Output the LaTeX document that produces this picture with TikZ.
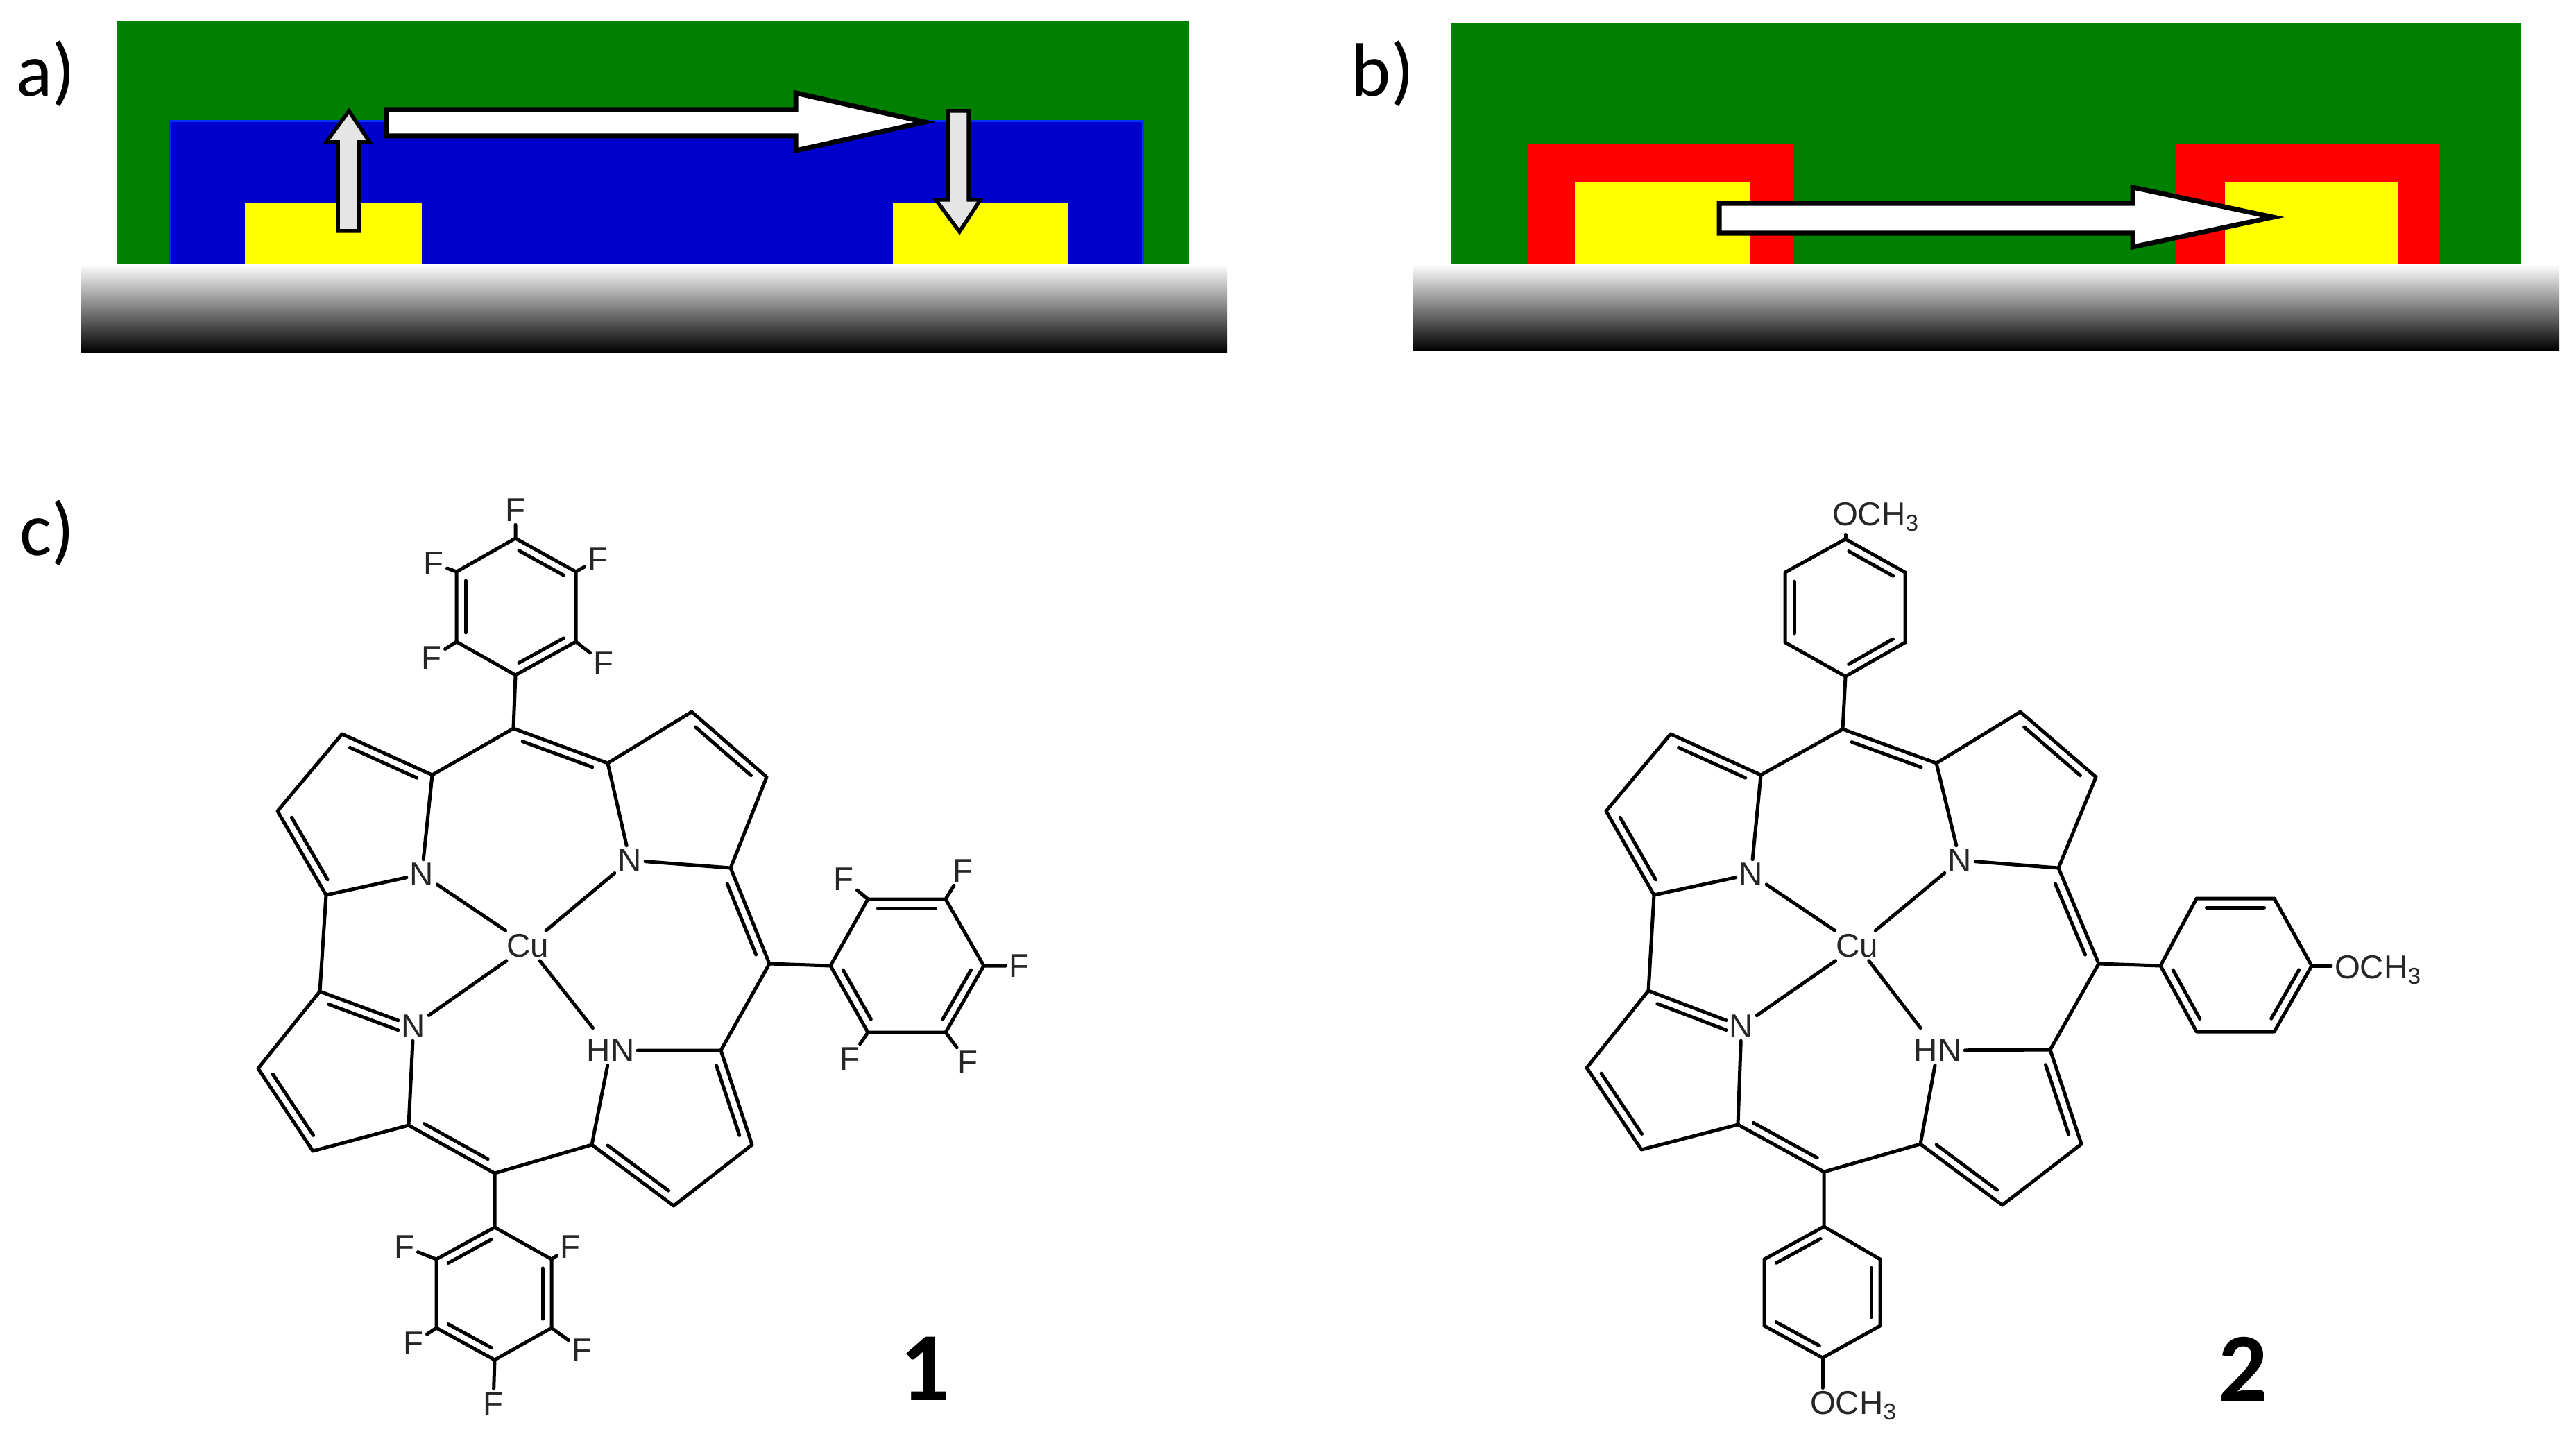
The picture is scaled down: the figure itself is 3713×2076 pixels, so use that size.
\documentclass[tikz,border=0pt]{standalone}
\usepackage{fontspec}
\setmainfont{Liberation Sans}
\newfontfamily\cali{Carlito}
\usetikzlibrary{calc}
\definecolor{fgreen}{RGB}{0,128,0}
\definecolor{fblue}{RGB}{0,0,205}
\definecolor{fblueedge}{RGB}{0,50,245}
\definecolor{fred}{RGB}{255,0,0}
\definecolor{fyellow}{RGB}{255,255,0}
\tikzset{
  bond/.style={line width=0.05cm,line cap=round,line join=round,black},
  atom/.style={inner sep=0.05cm,outer sep=0pt,font=\fontsize{13.5}{13.5}\selectfont,text=black!85},
  panel/.style={inner sep=0pt,font=\cali\fontsize{31}{31}\selectfont},
  compound/.style={inner sep=0pt,font=\cali\bfseries\fontsize{40}{40}\selectfont},
  wide arrow/.style={fill=white,draw=black,line width=0.07cm,line join=miter},
  thin arrow/.style={fill=black!10,draw=black,line width=0.055cm,line join=miter},
  substrate/.style={top color=white,bottom color=black}
}
\newcommand\dbl[2]{\draw[bond] ($(#1)!.13!(#2)!.13cm!-90:(#2)$) -- ($(#2)!.13!(#1)!.13cm!90:(#1)$);}
\newcommand\porphbonds{%
  \draw[bond] (Mt)--(a1) (a1)--(a2) (a2)--(a3) (a3)--(a4) (a4)--(Na) (Na)--(a1);
  \dbl{a2}{a1}\dbl{a4}{a3}
  \draw[bond] (Mt)--(b1) (b1)--(b2) (b2)--(b3) (b3)--(b4) (b4)--(Nb) (Nb)--(b1) (b4)--(Mr);
  \dbl{Mt}{b1}\dbl{b2}{b3}\dbl{b4}{Mr}
  \draw[bond] (Mr)--(d4) (Mr)--(r6) (a4)--(c1);
  \draw[bond] (c1)--(Nc) (c1)--(c2) (c2)--(c3) (c3)--(c4) (c4)--(Nc) (c4)--(Mb);
  \dbl{c1}{Nc}\dbl{c3}{c2}\dbl{Mb}{c4}
  \draw[bond] (Mb)--(d1) (d1)--(d2) (d2)--(d3) (d3)--(d4) (d4)--(HN) (HN)--(d1);
  \dbl{d2}{d1}\dbl{d4}{d3}
  \draw[bond] (Cu)--(Na) (Cu)--(Nb) (Cu)--(Nc);
  \draw[bond,shorten >=0.14cm] (Cu)--(HN);
  \draw[bond] (Mt)--(t4) (Mb)--(l1);
  \draw[bond] (t1)--(t2) (t2)--(t3) (t3)--(t4) (t4)--(t5) (t5)--(t6) (t6)--(t1);
  \dbl{t1}{t2}\dbl{t3}{t4}\dbl{t5}{t6}
  \draw[bond] (r1)--(r2) (r2)--(r3) (r3)--(r4) (r4)--(r5) (r5)--(r6) (r6)--(r1);
  \dbl{r1}{r2}\dbl{r3}{r4}\dbl{r5}{r6}
  \draw[bond] (l1)--(l2) (l2)--(l3) (l3)--(l4) (l4)--(l5) (l5)--(l6) (l6)--(l1);
  \dbl{l6}{l1}\dbl{l2}{l3}\dbl{l4}{l5}
}
\begin{document}
\begin{tikzpicture}[x=0.01cm,y=-0.01cm]
\useasboundingbox (0,0) rectangle (3713,2076);
\fill[white] (0,0) rectangle (3713,2076);
% panel a
\fill[fgreen] (169,30) rectangle (1714,380);
\fill[fblue] (244,175) rectangle (1647,380);
\draw[fblueedge,line width=0.03cm] (244,380) -- (244,175) -- (1647,175) -- (1647,380);
\fill[fyellow] (353,293) rectangle (608,380);
\fill[fyellow] (1287,293) rectangle (1540,380);
\shade[substrate] (117,381) rectangle (1769,508);
\draw[wide arrow] (557,158) -- (1147,158) -- (1147,134) -- (1333,176) -- (1147,217) -- (1147,196) -- (557,196) -- cycle;
\draw[thin arrow] (487,333) -- (487,205) -- (470,205) -- (503,160) -- (533,205) -- (517,205) -- (517,333) -- cycle;
\draw[thin arrow] (1366,160) -- (1396,160) -- (1396,288) -- (1413,288) -- (1383,334) -- (1349,288) -- (1366,288) -- cycle;
\node[panel] (la) at (66,106) {a)};
% panel b
\fill[fgreen] (2091,33) rectangle (3634,380);
\fill[fred] (2203,207) rectangle (2584,380);
\fill[fred] (3135,207) rectangle (3516,380);
\fill[fyellow] (2270,263) rectangle (2522,380);
\fill[fyellow] (3207,263) rectangle (3456,380);
\shade[substrate] (2036,381) rectangle (3689,505);
\draw[wide arrow] (2478,293) -- (3074,293) -- (3074,270) -- (3276,313) -- (3074,356) -- (3074,336) -- (2478,336) -- cycle;
\node[panel] (lb) at (1993,106) {b)};
\node[panel] (lc) at (68,768) {c)};
% molecule 1
\begin{scope}[name prefix=A-]
\coordinate (Mt) at (740,1050); \coordinate (Mr) at (1109,1389); \coordinate (Mb) at (713,1691);
\coordinate (a1) at (623,1117); \coordinate (a2) at (493,1058); \coordinate (a3) at (400,1169); \coordinate (a4) at (470,1290);
\coordinate (b1) at (876,1100); \coordinate (b2) at (997,1026); \coordinate (b3) at (1105,1120); \coordinate (b4) at (1053,1251);
\coordinate (c1) at (461,1429); \coordinate (c2) at (372,1540); \coordinate (c3) at (451,1659); \coordinate (c4) at (589,1622);
\coordinate (d1) at (853,1650); \coordinate (d2) at (971,1738); \coordinate (d3) at (1084,1650); \coordinate (d4) at (1039,1514);
\coordinate (t1) at (743,776); \coordinate (t2) at (830,824); \coordinate (t3) at (830,925); \coordinate (t4) at (743,973); \coordinate (t5) at (658,925); \coordinate (t6) at (658,824);
\coordinate (r1) at (1251,1296); \coordinate (r2) at (1363,1296); \coordinate (r3) at (1418,1392); \coordinate (r4) at (1363,1488); \coordinate (r5) at (1251,1488); \coordinate (r6) at (1197,1392);
\coordinate (l1) at (713,1769); \coordinate (l2) at (795,1815); \coordinate (l3) at (795,1914); \coordinate (l4) at (713,1960); \coordinate (l5) at (629,1914); \coordinate (l6) at (629,1815);
\node[atom] (Na) at (608,1260) {N};
\node[atom] (Nb) at (908,1240) {N};
\node[atom] (Nc) at (596,1479) {N};
\node[atom] (HN) at (880,1514) {HN};
\node[atom] (Cu) at (761,1363) {Cu};
\porphbonds
\node[atom] (f1) at (743,735) {F};
\node[atom] (f2) at (862,806) {F};
\node[atom] (f3) at (870,956) {F};
\node[atom] (f4) at (622,948) {F};
\node[atom] (f5) at (625,812) {F};
\draw[bond] (t1)--(f1) (t2)--(f2) (t3)--(f3) (t5)--(f4) (t6)--(f5);
\node[atom] (f6) at (1216,1267) {F};
\node[atom] (f7) at (1388,1255) {F};
\node[atom] (f8) at (1469,1392) {F};
\node[atom] (f9) at (1395,1531) {F};
\node[atom] (f10) at (1225,1526) {F};
\draw[bond] (r1)--(f6) (r2)--(f7) (r3)--(f8) (r4)--(f9) (r5)--(f10);
\node[atom] (f11) at (822,1797) {F};
\node[atom] (f12) at (839,1946) {F};
\node[atom] (f13) at (711,2023) {F};
\node[atom] (f14) at (596,1936) {F};
\node[atom] (f15) at (583,1797) {F};
\draw[bond] (l2)--(f11) (l3)--(f12) (l4)--(f13) (l5)--(f14) (l6)--(f15);
\node[compound] (n1) at (1333,1973) {1};
\end{scope}
% molecule 2
\begin{scope}[name prefix=B-]
\coordinate (Mt) at (2656,1051); \coordinate (Mr) at (3025,1389); \coordinate (Mb) at (2629,1689);
\coordinate (a1) at (2538,1117); \coordinate (a2) at (2408,1058); \coordinate (a3) at (2315,1169); \coordinate (a4) at (2384,1290);
\coordinate (b1) at (2791,1100); \coordinate (b2) at (2912,1026); \coordinate (b3) at (3021,1120); \coordinate (b4) at (2967,1251);
\coordinate (c1) at (2376,1428); \coordinate (c2) at (2287,1539); \coordinate (c3) at (2366,1657); \coordinate (c4) at (2505,1621);
\coordinate (d1) at (2768,1649); \coordinate (d2) at (2886,1737); \coordinate (d3) at (3000,1649); \coordinate (d4) at (2955,1513);
\coordinate (t1) at (2660,777); \coordinate (t2) at (2746,825); \coordinate (t3) at (2746,926); \coordinate (t4) at (2660,975); \coordinate (t5) at (2573,926); \coordinate (t6) at (2573,825);
\coordinate (r1) at (3166,1295); \coordinate (r2) at (3278,1295); \coordinate (r3) at (3332,1392); \coordinate (r4) at (3278,1487); \coordinate (r5) at (3166,1487); \coordinate (r6) at (3114,1392);
\coordinate (l1) at (2629,1768); \coordinate (l2) at (2710,1815); \coordinate (l3) at (2710,1911); \coordinate (l4) at (2627,1957); \coordinate (l5) at (2543,1911); \coordinate (l6) at (2543,1815);
\node[atom] (Na) at (2524,1260) {N};
\node[atom] (Nb) at (2825,1240) {N};
\node[atom] (Nc) at (2510,1479) {N};
\node[atom] (HN) at (2793,1514) {HN};
\node[atom] (Cu) at (2677,1363) {Cu};
\porphbonds
\node[atom,anchor=west] (o1) at (2636,745) {OCH\textsubscript{3}};
\node[atom,anchor=west] (o2) at (3360,1398) {OCH\textsubscript{3}};
\node[atom,anchor=west] (o3) at (2604,2026) {OCH\textsubscript{3}};
\draw[bond] (t1)--(t1 |- o1.south) (r3)--(r3 -| o2.west) (l4)--(l4 |- o3.north);
\node[compound] (n2) at (3233,1973) {2};
\end{scope}
\end{tikzpicture}
\end{document}
